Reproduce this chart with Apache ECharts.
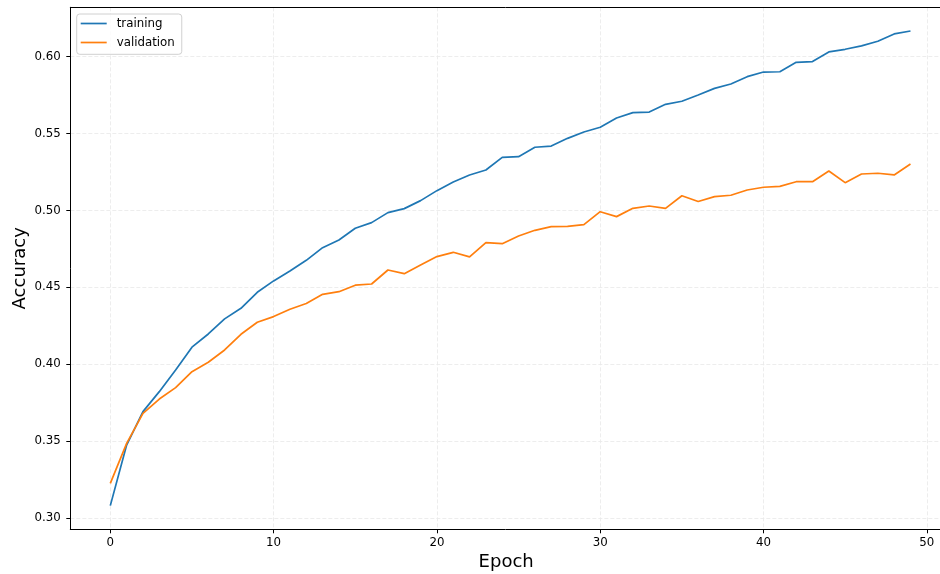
<!DOCTYPE html>
<html><head><meta charset="utf-8">
<script src="https://cdn.jsdelivr.net/npm/echarts@6/dist/echarts.min.js"></script>
<style>html,body{margin:0;padding:0;background:#fff;overflow:hidden}#c{width:940px;height:574px}</style>
</head><body><div id="c"></div>
<script>
const epochs = [0,1,2,3,4,5,6,7,8,9,10,11,12,13,14,15,16,17,18,19,20,21,22,23,24,25,26,27,28,29,30,31,32,33,34,35,36,37,38,39,40,41,42,43,44,45,46,47,48,49];
const training = [0.3081,0.3475,0.3692,0.3822,0.3963,0.4111,0.4197,0.4295,0.4364,0.4468,
  0.4542,0.4607,0.4676,0.4758,0.4808,0.4884,0.4921,0.4986,0.5012,0.5064,
  0.5129,0.5185,0.5231,0.5263,0.5345,0.5350,0.5411,0.5419,0.5469,0.5510,
  0.5541,0.5601,0.5636,0.5640,0.5690,0.5710,0.5751,0.5794,0.5822,0.5870,
  0.5900,0.5902,0.5963,0.5968,0.6031,0.6048,0.6070,0.6100,0.6148,0.6167];
const validation = [0.3226,0.3486,0.3681,0.3774,0.3848,0.3952,0.4013,0.4093,0.4195,0.4273,
  0.4310,0.4358,0.4395,0.4455,0.4472,0.4514,0.4522,0.4613,0.4589,0.4646,
  0.4700,0.4728,0.4698,0.4791,0.4784,0.4834,0.4871,0.4895,0.4897,0.4908,
  0.4992,0.4960,0.5014,0.5029,0.5014,0.5096,0.5058,0.5090,0.5099,0.5133,
  0.5151,0.5157,0.5187,0.5187,0.5257,0.5181,0.5237,0.5242,0.5231,0.5302];
const xTicks = [0,10,20,30,40,50];
const yTicks = [0.30,0.35,0.40,0.45,0.50,0.55,0.60];
const seriesNames = ['training','validation'];
const xLabel = 'Epoch';
const yLabel = 'Accuracy';

const FONT = 'DejaVu Sans';
const xMin = -2.45, xMax = 50.93, yMin = 0.2927, yMax = 0.6321;
const grid = {color:'#e8e8e8', type:[4,2], width:0.8};

const chart = echarts.init(document.getElementById('c'), null, {renderer:'canvas'});
chart.setOption({
  animation:false,
  backgroundColor:'#fff',
  textStyle:{fontFamily:FONT},
  grid:{left:70.3, right:-2, top:7.3, bottom:44.7, containLabel:false, outerBoundsMode:'none'},
  legend:{
    orient:'vertical', left:76.7, top:14,
    data:seriesNames,
    icon:'rect', itemWidth:26, itemHeight:1.7, itemGap:5,
    padding:[2.5,7,4.8,4],
    borderColor:'#d0d0d0', borderWidth:1, borderRadius:3,
    backgroundColor:'rgba(255,255,255,0.8)',
    textStyle:{fontFamily:FONT, fontSize:11.8, color:'#000', lineHeight:14, padding:[0,0,0,5]}
  },
  xAxis:[{
    type:'value', min:xMin, max:xMax,
    name:xLabel, nameLocation:'middle', nameGap:24, nameMoveOverlap:false,
    nameTextStyle:{fontFamily:FONT, fontSize:18, color:'#000'},
    axisLine:{show:true, onZero:false, lineStyle:{color:'#000', width:1}},
    axisTick:{show:true, length:4, customValues:xTicks, lineStyle:{color:'#000'}},
    axisLabel:{customValues:xTicks, margin:8, fontFamily:FONT, fontSize:11.8, color:'#000'},
    splitLine:{show:true, lineStyle:grid}
  },{
    type:'value', min:xMin, max:xMax, position:'top',
    axisLine:{show:true, onZero:false, lineStyle:{color:'#000', width:1}},
    axisTick:{show:false}, axisLabel:{show:false}, splitLine:{show:false}
  }],
  yAxis:{
    type:'value', min:yMin, max:yMax,
    name:yLabel, nameLocation:'middle', nameGap:41, nameRotate:90, nameMoveOverlap:false,
    nameTextStyle:{fontFamily:FONT, fontSize:18, color:'#000'},
    axisLine:{show:true, onZero:false, lineStyle:{color:'#000', width:1}},
    axisTick:{show:true, length:4, customValues:yTicks, lineStyle:{color:'#000'}},
    axisLabel:{customValues:yTicks, margin:9.5, fontFamily:FONT, fontSize:11.8, color:'#000',
      formatter:v=>v.toFixed(2)},
    splitLine:{show:true, lineStyle:grid}
  },
  series:[
    {name:seriesNames[0], type:'line', showSymbol:false, symbol:'none',
     color:'#1f77b4', lineStyle:{width:1.7, color:'#1f77b4'},
     data:epochs.map((e,i)=>[e, training[i]])},
    {name:seriesNames[1], type:'line', showSymbol:false, symbol:'none',
     color:'#ff7f0e', lineStyle:{width:1.7, color:'#ff7f0e'},
     data:epochs.map((e,i)=>[e, validation[i]])}
  ]
});
</script></body></html>
